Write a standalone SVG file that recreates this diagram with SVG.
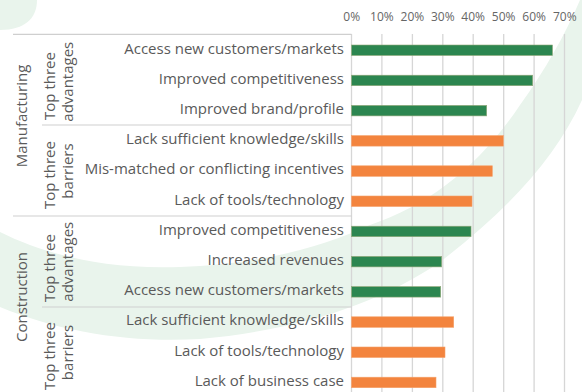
<svg xmlns="http://www.w3.org/2000/svg" width="582" height="392" viewBox="0 0 582 392">
<style>
text{font-family:"Open Sans","Liberation Sans",sans-serif;fill:#5a5a5a}
.lbl{font-size:15px;text-anchor:end}
.ax{font-size:12px;text-anchor:middle;fill:#666}
.rot{font-size:15px;text-anchor:middle}
.grid{stroke:#d6d6d6;stroke-width:1.3}
.sep{stroke:#cfcfcf;stroke-width:1.2}
.g{fill:#2c8650;stroke:#93a878;stroke-width:0.6}
.o{fill:#f3843e;stroke:#f5a16a;stroke-width:0.6}
.bg{fill:#e9f4ec}
</style>
<rect width="582" height="392" fill="#ffffff"/>
<g id="background">
<path class="bg" d="M0,0 L37,0 C37,18 25,30 0,30 Z"/>
<path class="bg" d="M0,232 C40,252 100,270 180,267 C260,264 320,248 370,225 C430,205 480,165 520,105 C545,70 565,35 580,0 L600,0 L600,70 L582,100 C555,160 505,212 440,262 C380,303 300,330 200,339 C130,343 60,332 0,307 Z"/>
</g>
<g id="axis">
<g id="gridlines">
<line class="grid" x1="351.5" y1="34" x2="351.5" y2="392"/>
<line class="grid" x1="381.9" y1="34" x2="381.9" y2="392"/>
<line class="grid" x1="412.4" y1="34" x2="412.4" y2="392"/>
<line class="grid" x1="442.8" y1="34" x2="442.8" y2="392"/>
<line class="grid" x1="473.2" y1="34" x2="473.2" y2="392"/>
<line class="grid" x1="503.7" y1="34" x2="503.7" y2="392"/>
<line class="grid" x1="534.1" y1="34" x2="534.1" y2="392"/>
<line class="grid" x1="564.5" y1="34" x2="564.5" y2="392"/>
</g>
<g id="ticklabels">
<text class="ax" x="351.7" y="20.7">0%</text>
<text class="ax" x="381.9" y="20.7">10%</text>
<text class="ax" x="412.4" y="20.7">20%</text>
<text class="ax" x="442.8" y="20.7">30%</text>
<text class="ax" x="473.2" y="20.7">40%</text>
<text class="ax" x="503.7" y="20.7">50%</text>
<text class="ax" x="534.1" y="20.7">60%</text>
<text class="ax" x="564.8" y="20.7">70%</text>
</g>
</g>
<g id="separators">
<line class="sep" x1="13" y1="34.3" x2="351.5" y2="34.3"/>
<line class="sep" x1="42" y1="125" x2="351.5" y2="125"/>
<line class="sep" x1="13" y1="216" x2="351.5" y2="216"/>
<line class="sep" x1="42" y1="307" x2="351.5" y2="307"/>
</g>
<g id="group-labels">
<text class="rot" transform="translate(26.6,116) rotate(-90)">Manufacturing</text>
<text class="rot" transform="translate(26.6,297) rotate(-90)">Construction</text>
<text class="rot" transform="translate(55,86) rotate(-90)">Top three</text>
<text class="rot" transform="translate(72.5,81.7) rotate(-90)">advantages</text>
<text class="rot" transform="translate(55,175) rotate(-90)">Top three</text>
<text class="rot" transform="translate(72.5,171) rotate(-90)">barriers</text>
<text class="rot" transform="translate(55,268) rotate(-90)">Top three</text>
<text class="rot" transform="translate(72.5,261.7) rotate(-90)">advantages</text>
<text class="rot" transform="translate(55,356) rotate(-90)">Top three</text>
<text class="rot" transform="translate(72.5,352.5) rotate(-90)">barriers</text>
</g>
<g id="row1"><text class="lbl" x="344" y="53.5">Access new customers/markets</text><rect class="g" x="351.5" y="45" width="201" height="10.5"/></g>
<g id="row2"><text class="lbl" x="344" y="83.7">Improved competitiveness</text><rect class="g" x="351.5" y="75.2" width="181.2" height="10.5"/></g>
<g id="row3"><text class="lbl" x="344" y="113.9">Improved brand/profile</text><rect class="g" x="351.5" y="105.4" width="135.2" height="10.5"/></g>
<g id="row4"><text class="lbl" x="344" y="144.1">Lack sufficient knowledge/skills</text><rect class="o" x="351.5" y="135.6" width="151.8" height="10.5"/></g>
<g id="row5"><text class="lbl" x="344" y="174.3">Mis-matched or conflicting incentives</text><rect class="o" x="351.5" y="165.8" width="140.8" height="10.5"/></g>
<g id="row6"><text class="lbl" x="344" y="204.5">Lack of tools/technology</text><rect class="o" x="351.5" y="196" width="120.5" height="10.5"/></g>
<g id="row7"><text class="lbl" x="344" y="234.7">Improved competitiveness</text><rect class="g" x="351.5" y="226.2" width="119.5" height="10.5"/></g>
<g id="row8"><text class="lbl" x="344" y="264.9">Increased revenues</text><rect class="g" x="351.5" y="256.4" width="90.2" height="10.5"/></g>
<g id="row9"><text class="lbl" x="344" y="295.1">Access new customers/markets</text><rect class="g" x="351.5" y="286.6" width="89.2" height="10.5"/></g>
<g id="row10"><text class="lbl" x="344" y="325.3">Lack sufficient knowledge/skills</text><rect class="o" x="351.5" y="316.8" width="102.2" height="10.5"/></g>
<g id="row11"><text class="lbl" x="344" y="355.5">Lack of tools/technology</text><rect class="o" x="351.5" y="347" width="93.5" height="10.5"/></g>
<g id="row12"><text class="lbl" x="344" y="385.7">Lack of business case</text><rect class="o" x="351.5" y="377.2" width="84.5" height="10.5"/></g>
</svg>
